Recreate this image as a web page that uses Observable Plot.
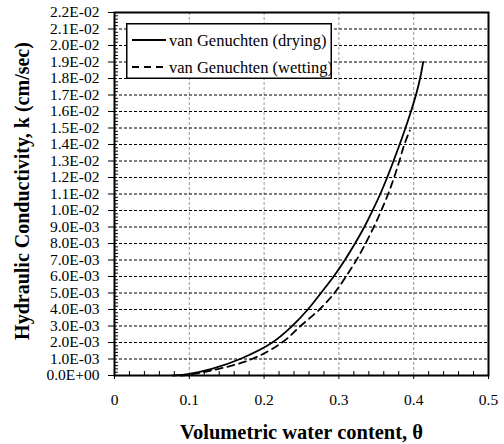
<!DOCTYPE html>
<html>
<head>
<meta charset="utf-8">
<script src="https://cdn.jsdelivr.net/npm/d3@7"></script>
<script src="https://cdn.jsdelivr.net/npm/@observablehq/plot@0.6"></script>
<style>
  html, body { margin: 0; padding: 0; background: #fff; }
  #wrap { position: relative; width: 504px; height: 444px; font-family: "Liberation Serif", "Times New Roman", Tinos, "DejaVu Serif", serif; }
  #wrap svg text { font-family: "Liberation Serif", "Times New Roman", Tinos, "DejaVu Serif", serif; }
  #legend { position: absolute; left: 126px; top: 23px; }
</style>
</head>
<body>
<div id="wrap"><div id="legend"></div></div>
<script>
// ---- data ----
const seriesNames = ["van Genuchten (drying)", "van Genuchten (wetting)"];
const dryingTheta = [0.078, 0.10, 0.13, 0.168, 0.211, 0.2375, 0.2585, 0.276, 0.293, 0.308, 0.3215, 0.334, 0.345, 0.3553, 0.3645, 0.373, 0.3812, 0.389, 0.3963, 0.403, 0.4085, 0.4127];
const dryingK     = [0, 0.0001, 0.0004, 0.001, 0.002, 0.003, 0.004, 0.005, 0.006, 0.007, 0.008, 0.009, 0.010, 0.011, 0.012, 0.013, 0.014, 0.015, 0.016, 0.017, 0.018, 0.019];
const wettingTheta = [0.088, 0.10, 0.13, 0.184, 0.224, 0.2487, 0.274, 0.294, 0.3095, 0.3235, 0.3356, 0.3467, 0.3567, 0.3658, 0.3738, 0.3808, 0.3875, 0.3948];
const wettingK     = [0, 0.00006, 0.0003, 0.001, 0.002, 0.003, 0.004, 0.005, 0.006, 0.007, 0.008, 0.009, 0.010, 0.011, 0.012, 0.013, 0.014, 0.01485];
const xTicks = [0, 0.1, 0.2, 0.3, 0.4, 0.5];
const xTickLabels = ["0", "0.1", "0.2", "0.3", "0.4", "0.5"];
const yTicks = d3.range(0, 23).map(i => i / 1000);
const xLabel = "Volumetric water content, θ";
const yLabel = "Hydraulic Conductivity, k (cm/sec)";

// ---- build ----
const drying = dryingTheta.map((t, i) => ({theta: t, k: dryingK[i]}));
const wetting = wettingTheta.map((t, i) => ({theta: t, k: wettingK[i]}));
const yGrid = yTicks.filter(v => v > 0 && v < 0.022);
const xGrid = xTicks.filter(v => v > 0 && v < 0.5);
const yMinor = d3.range(0, 111).map(i => i / 5000).filter((v, i) => i % 5 !== 0);
const xMinor = d3.range(0, 26).map(i => i / 50).filter((v, i) => i % 5 !== 0);

function fmtE(v) {
  if (v === 0) return "0.0E+00";
  const e = Math.floor(Math.log10(v) + 1e-9);
  const m = v / Math.pow(10, e);
  return m.toFixed(1) + "E" + (e < 0 ? "-" : "+") + String(Math.abs(e)).padStart(2, "0");
}

const FONT = '"Liberation Serif", "Times New Roman", Tinos, "DejaVu Serif", serif';
const W = 504, H = 444, mL = 114, mR = 16, mT = 12, mB = 69;
const pw = W - mL - mR, ph = H - mT - mB;

const chart = Plot.plot({
  width: W, height: H,
  marginLeft: mL, marginRight: mR, marginTop: mT, marginBottom: mB,
  style: {fontFamily: FONT, fontSize: "15px", color: "#000", background: "transparent"},
  x: {domain: [0, 0.5]},
  y: {domain: [0, 0.022]},
  marks: [
    Plot.ruleX(xGrid, {stroke: "#999", strokeWidth: 1, strokeDasharray: "3,2"}),
    Plot.ruleY(yGrid, {stroke: "#000", strokeWidth: 1, strokeDasharray: "3,2"}),
    Plot.ruleY(yMinor, {stroke: "#000", strokeWidth: 1, insetRight: pw - 4}),
    Plot.ruleX(xMinor, {stroke: "#000", strokeWidth: 1, insetTop: ph - 4}),
    Plot.line(wetting, {x: "theta", y: "k", stroke: "#000", strokeWidth: 1.8, strokeDasharray: "7,5", curve: "catmull-rom"}),
    Plot.line(drying, {x: "theta", y: "k", stroke: "#000", strokeWidth: 1.8, curve: "catmull-rom"}),
    Plot.frame({stroke: "#000", strokeWidth: 2}),
    Plot.axisY(yTicks, {tickSize: 6, tickPadding: 9, tickFormat: fmtE, fontSize: 15.5, label: null, stroke: "#000"}),
    Plot.axisX(xTicks, {tickSize: 4, tickPadding: 14, tickFormat: (d) => xTickLabels[xTicks.indexOf(d)], fontSize: 15.5, label: null}),
    Plot.text([yLabel], {frameAnchor: "left", textAnchor: "middle", lineAnchor: "middle", rotate: -90, dx: -92, dy: -3, fontWeight: "bold", fontSize: 20, fill: "#000"}),
    Plot.text([xLabel], {frameAnchor: "bottom", lineAnchor: "middle", dy: 57, fontWeight: "bold", fontSize: 20.5, fill: "#000"})
  ]
});
document.getElementById("wrap").prepend(chart);

// ---- legend ----
const lw = 206, lh = 56;
const ns = "http://www.w3.org/2000/svg";
const lg = document.createElementNS(ns, "svg");
lg.setAttribute("width", lw); lg.setAttribute("height", lh);
const box = document.createElementNS(ns, "rect");
box.setAttribute("x", 0.75); box.setAttribute("y", 0.75);
box.setAttribute("width", lw - 1.5); box.setAttribute("height", lh - 1.5);
box.setAttribute("fill", "#fff"); box.setAttribute("stroke", "#000"); box.setAttribute("stroke-width", 1.5);
lg.appendChild(box);
const dashes = [null, "7,5"];
seriesNames.forEach((name, i) => {
  const cy = 17 + i * 27;
  const ln = document.createElementNS(ns, "line");
  ln.setAttribute("x1", 6); ln.setAttribute("x2", 40);
  ln.setAttribute("y1", cy); ln.setAttribute("y2", cy);
  ln.setAttribute("stroke", "#000"); ln.setAttribute("stroke-width", 1.8);
  if (dashes[i]) ln.setAttribute("stroke-dasharray", dashes[i]);
  lg.appendChild(ln);
  const tx = document.createElementNS(ns, "text");
  tx.setAttribute("x", 43); tx.setAttribute("y", cy);
  tx.setAttribute("dominant-baseline", "central");
  tx.setAttribute("font-size", "16.5");
  tx.setAttribute("fill", "#000");
  tx.style.fontFamily = FONT;
  tx.textContent = name;
  lg.appendChild(tx);
});
document.getElementById("legend").appendChild(lg);
</script>
</body>
</html>
